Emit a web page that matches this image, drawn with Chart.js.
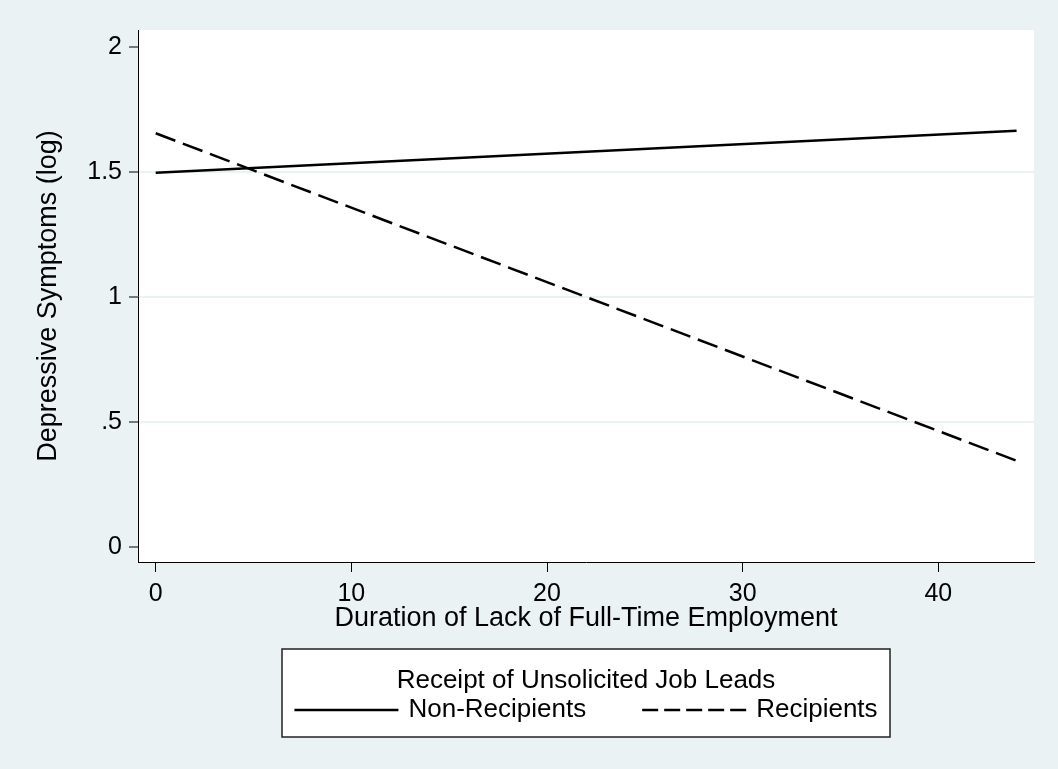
<!DOCTYPE html>
<html><head><meta charset="utf-8">
<script src="https://cdn.jsdelivr.net/npm/chart.js@4"></script>
<style>html,body{margin:0;padding:0;background:#EAF2F3;} canvas{display:block;}</style>
</head><body>
<canvas id="c" width="1058" height="769"></canvas>
<script>
// ---- data ----
const durations = [0, 44];
const nonRecipients = [1.496, 1.664];
const recipients = [1.654, 0.344];
const xTickValues = [0, 10, 20, 30, 40];
const yTickValues = [0, 0.5, 1, 1.5, 2];
const yTickLabels = ['0', '.5', '1', '1.5', '2'];
const seriesNames = ['Non-Recipients', 'Recipients'];
const legendTitle = 'Receipt of Unsolicited Job Leads';
const xTitle = 'Duration of Lack of Full-Time Employment';
const yTitle = 'Depressive Symptoms (log)';

// ---- styling ----
const BG = '#EAF2F3';
const FONT = "'Liberation Sans', Arial, sans-serif";
const INK = '#000';
const PLOT_DASH = [21, 8];
const KEY_DASH = [16, 6];

const bgPlugin = {
  id: 'bg',
  beforeDraw(chart) {
    const {ctx, chartArea: a} = chart;
    ctx.save();
    ctx.fillStyle = BG;
    ctx.fillRect(0, 0, chart.width, chart.height);
    ctx.fillStyle = '#fff';
    ctx.fillRect(a.left, a.top, a.right - a.left, a.bottom - a.top);
    ctx.restore();
  }
};

const boxLegend = {
  id: 'boxLegend',
  afterDraw(chart) {
    const {ctx, chartArea: a} = chart;
    const cx = (a.left + a.right) / 2;
    const boxW = 608, top = 649, bottom = 737;
    const left = cx - boxW / 2;
    ctx.save();
    ctx.fillStyle = '#fff';
    ctx.fillRect(left, top, boxW, bottom - top);
    ctx.strokeStyle = '#222';
    ctx.lineWidth = 1.5;
    ctx.strokeRect(left, top, boxW, bottom - top);
    ctx.font = '26px ' + FONT;
    ctx.fillStyle = INK;
    ctx.textBaseline = 'middle';
    ctx.textAlign = 'center';
    ctx.fillText(legendTitle, cx, 681);
    const keyLen = 104, gap = 10, colGap = 56;
    const w = seriesNames.map(s => ctx.measureText(s).width);
    const total = 2 * keyLen + 2 * gap + w[0] + w[1] + colGap;
    let x = cx - total / 2;
    const y = 710;
    const ds = chart.data.datasets;
    ctx.textAlign = 'left';
    for (let i = 0; i < seriesNames.length; i++) {
      ctx.beginPath();
      ctx.setLineDash(ds[i].borderDash ? KEY_DASH : []);
      ctx.lineWidth = 2.5;
      ctx.strokeStyle = INK;
      ctx.moveTo(x, y);
      ctx.lineTo(x + keyLen, y);
      ctx.stroke();
      ctx.setLineDash([]);
      x += keyLen + gap;
      ctx.fillText(seriesNames[i], x, y);
      x += w[i] + colGap;
    }
    ctx.restore();
  }
};

const toPoints = (xs, ys) => xs.map((v, i) => ({x: v, y: ys[i]}));

new Chart(document.getElementById('c'), {
  type: 'line',
  data: {
    datasets: [
      {label: seriesNames[0], data: toPoints(durations, nonRecipients), borderColor: INK, borderWidth: 2.5, pointRadius: 0, tension: 0, fill: false},
      {label: seriesNames[1], data: toPoints(durations, recipients), borderColor: INK, borderWidth: 2.5, borderDash: PLOT_DASH, pointRadius: 0, tension: 0, fill: false}
    ]
  },
  options: {
    responsive: false,
    animation: false,
    devicePixelRatio: 1,
    layout: {padding: {left: 0, top: 30, right: 24, bottom: 117}},
    plugins: {legend: {display: false}, tooltip: {enabled: false}},
    scales: {
      x: {
        type: 'linear',
        min: -0.905, max: 44.89,
        afterBuildTicks: s => { s.ticks = xTickValues.map(v => ({value: v})); },
        afterFit: s => { s.height = 90; },
        ticks: {font: {family: FONT, size: 25}, color: INK, padding: 7, maxRotation: 0, autoSkip: false},
        grid: {drawOnChartArea: false, tickLength: 10, tickColor: INK, tickWidth: 1},
        border: {display: true, color: INK, width: 1},
        title: {display: true, text: xTitle, font: {family: FONT, size: 27}, color: INK, padding: {top: 4, bottom: 17}}
      },
      y: {
        type: 'linear',
        min: -0.061, max: 2.067,
        afterBuildTicks: s => { s.ticks = yTickValues.map(v => ({value: v})); },
        afterFit: s => { s.width = 138; },
        ticks: {font: {family: FONT, size: 25}, color: INK, padding: 7, autoSkip: false,
          callback: v => { const i = yTickValues.indexOf(v); return i >= 0 ? yTickLabels[i] : ''; }},
        grid: {
          color: c => (c.tick && (c.tick.value === yTickValues[0] || c.tick.value === yTickValues[yTickValues.length - 1])) ? 'rgba(0,0,0,0)' : BG,
          lineWidth: 2, tickLength: 9, tickColor: INK, tickWidth: 1
        },
        border: {display: true, color: INK, width: 1},
        title: {display: true, text: yTitle, font: {family: FONT, size: 27}, color: INK, padding: {top: 32, bottom: 4}}
      }
    }
  },
  plugins: [bgPlugin, boxLegend]
});
</script>
</body></html>
